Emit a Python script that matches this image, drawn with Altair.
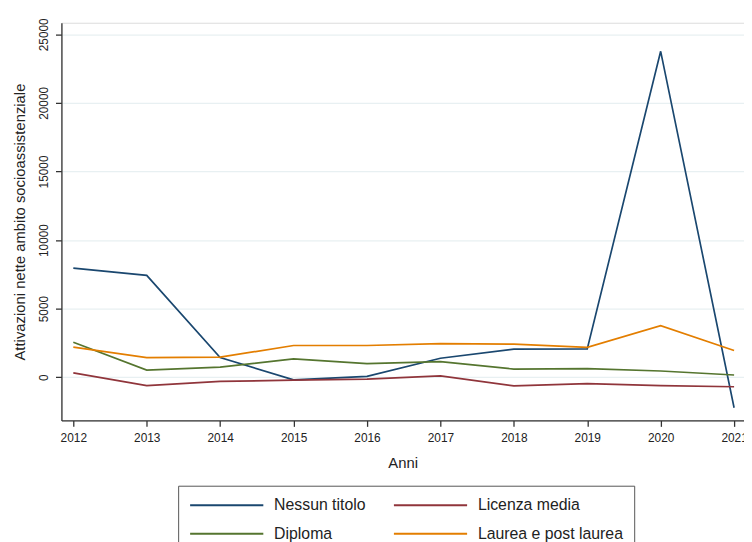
import altair as alt
import pandas as pd

anni = [2012, 2013, 2014, 2015, 2016, 2017, 2018, 2019, 2020, 2021]
serie = ["Nessun titolo", "Licenza media", "Diploma", "Laurea e post laurea"]
colori = ["#1a476f", "#90353b", "#55752f", "#e37e00"]

nessun_titolo = [7950, 7420, 1430, -190, 60, 1380, 2050, 2060, 23760, -2230]
licenza_media = [310, -620, -310, -220, -140, 100, -640, -470, -620, -700]
diploma = [2550, 520, 730, 1330, 990, 1130, 590, 630, 450, 160]
laurea = [2190, 1430, 1460, 2310, 2310, 2450, 2410, 2180, 3760, 1950]

rows = []
for nome, vals in zip(serie, [nessun_titolo, licenza_media, diploma, laurea]):
    for a, v in zip(anni, vals):
        rows.append({"Anno": a, "Valore": v, "Serie": nome})
df = pd.DataFrame(rows)

FONT = "Liberation Sans"

chart = alt.Chart(df).mark_line(strokeWidth=1.7, clip=True).encode(
    x=alt.X(
        "Anno:Q",
        scale=alt.Scale(domain=[2011.838, 2021.135], nice=False, zero=False),
        axis=alt.Axis(
            values=anni, format="d", title="Anni", grid=False,
            domainColor="#333333", domainWidth=1.3, tickColor="#333333", tickWidth=1.3, tickSize=6,
            labelFontSize=12, labelColor="#222222", labelPadding=6, labelFont=FONT,
            labelFlush=False, labelOverlap=False,
            titleFontSize=15, titleFontWeight="normal", titleColor="#222222", titleFont=FONT,
            titleX=345, titleY=48, titleBaseline="alphabetic", titleAlign="center",
        ),
    ),
    y=alt.Y(
        "Valore:Q",
        scale=alt.Scale(domain=[-3153, 25844], nice=False, zero=False),
        axis=alt.Axis(
            values=[0, 5000, 10000, 15000, 20000, 25000], format="d",
            title="Attivazioni nette ambito socioassistenziale",
            grid=True, gridColor="#e8f0f2", gridWidth=1.2,
            domainColor="#333333", domainWidth=1.3, tickColor="#333333", tickWidth=1.3, tickSize=6,
            labelAngle=270, labelAlign="center", labelBaseline="alphabetic", labelPadding=8,
            labelFontSize=12, labelColor="#222222", labelFont=FONT,
            labelFlush=False, labelOverlap=False,
            titleFontSize=15, titleFontWeight="normal", titleColor="#222222", titleFont=FONT,
            titleAngle=270, titleX=-37, titleY=201, titleBaseline="alphabetic", titleAlign="center",
        ),
    ),
    color=alt.Color(
        "Serie:N",
        scale=alt.Scale(domain=serie, range=colori),
        sort=serie,
        legend=alt.Legend(
            title=None, orient="none", legendX=118, legendY=468,
            columns=2, direction="horizontal",
            symbolType="M-1,0H9", symbolSize=219, symbolStrokeWidth=2,
            labelFontSize=16, labelFont=FONT, labelColor="#222222", labelOffset=69,
            columnPadding=24, rowPadding=12,
            strokeColor="#555555", fillColor="white", padding=11,
            labelLimit=300,
        ),
    ),
).properties(
    width=690,
    height=402,
    autosize=alt.AutoSizeParams(type="none"),
    padding={"left": 54, "top": 12, "right": 0, "bottom": 120},
).configure_view(stroke=None).configure(background="white")

chart.save("out.html", embed_options={"renderer": "svg", "actions": False})
